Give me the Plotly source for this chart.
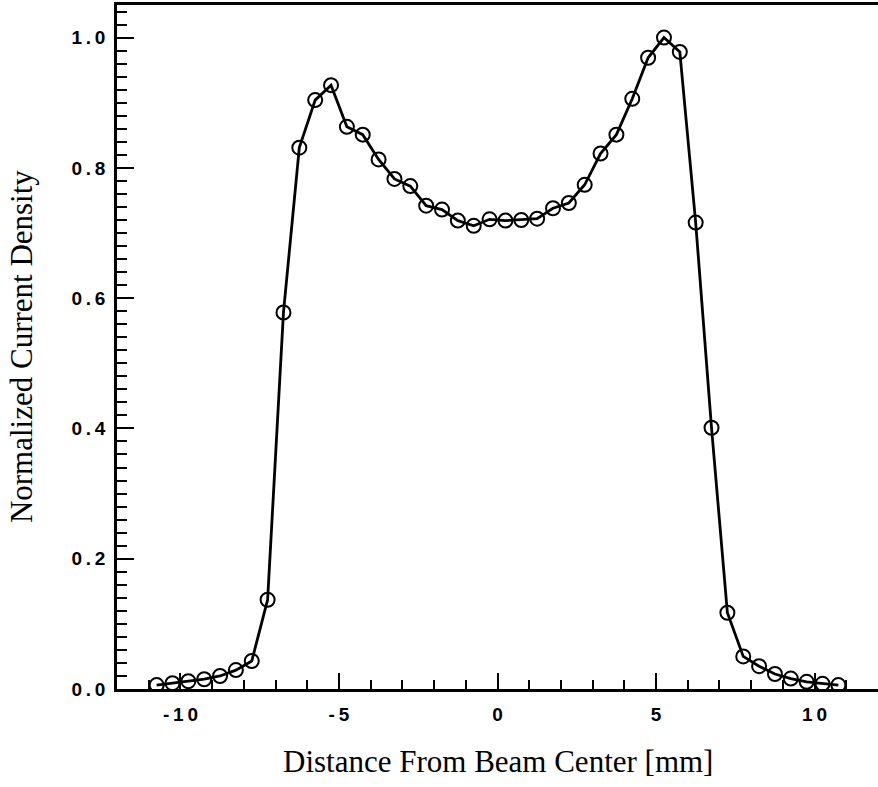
import plotly.graph_objects as go

x_mm = [-10.75, -10.25, -9.75, -9.25, -8.75, -8.25, -7.75, -7.25, -6.75, -6.25,
        -5.75, -5.25, -4.75, -4.25, -3.75, -3.25, -2.75, -2.25, -1.75, -1.25,
        -0.75, -0.25, 0.25, 0.75, 1.25, 1.75, 2.25, 2.75, 3.25, 3.75,
        4.25, 4.75, 5.25, 5.75, 6.25, 6.75, 7.25, 7.75, 8.25, 8.75,
        9.25, 9.75, 10.25, 10.75]
density = [0.006, 0.009, 0.012, 0.015, 0.020, 0.029, 0.043, 0.137, 0.578, 0.831,
           0.904, 0.927, 0.863, 0.851, 0.813, 0.783, 0.772, 0.742, 0.736, 0.719,
           0.711, 0.721, 0.719, 0.720, 0.722, 0.738, 0.746, 0.774, 0.822, 0.851,
           0.906, 0.969, 1.000, 0.978, 0.716, 0.401, 0.117, 0.050, 0.035, 0.023,
           0.016, 0.011, 0.008, 0.006]

T = "\u2009"  # thin space, mimics the spaced-out lettering of the original labels
x_tickvals = [-10, -5, 0, 5, 10]
x_ticktext = ["-" + T + "1" + T + "0", "-" + T + "5", "0", "5", "1" + T + "0"]
y_tickvals = [0.0, 0.2, 0.4, 0.6, 0.8, 1.0]
y_ticktext = ["0" + T + "." + T + "0", "0" + T + "." + T + "2", "0" + T + "." + T + "4",
              "0" + T + "." + T + "6", "0" + T + "." + T + "8", "1" + T + "." + T + "0"]

x_title = "Distance From Beam Center [mm]"
y_title = "Normalized Current Density"

fig = go.Figure()
fig.add_trace(go.Scatter(
    x=x_mm, y=density, mode="lines+markers",
    line=dict(color="black", width=2.8),
    marker=dict(symbol="circle-open", size=14, color="black", line=dict(width=2.0, color="black")),
    showlegend=False,
))

tick_font = dict(family="Liberation Sans", size=19, color="black", weight="bold")
title_font = dict(family="Liberation Serif", size=31, color="black")

fig.update_layout(
    width=878, height=787,
    margin=dict(l=117, r=0, t=5, b=98, autoexpand=False),
    plot_bgcolor="white", paper_bgcolor="white",
    xaxis=dict(
        range=[-12, 12], tickvals=x_tickvals, ticktext=x_ticktext,
        ticks="inside", ticklen=16, tickwidth=2, tickcolor="black",
        minor=dict(dtick=1, tick0=0, ticks="inside", ticklen=9, tickwidth=2, tickcolor="black"),
        showline=True, linecolor="black", linewidth=2.5, mirror=True,
        showgrid=False, zeroline=False, tickfont=tick_font, ticklabelstandoff=6,
        automargin=False,
    ),
    yaxis=dict(
        range=[0, 1.05], tickvals=y_tickvals, ticktext=y_ticktext,
        ticks="inside", ticklen=17, tickwidth=2, tickcolor="black",
        minor=dict(dtick=0.02, tick0=0, ticks="inside", ticklen=10, tickwidth=2, tickcolor="black"),
        showline=True, linecolor="black", linewidth=2.5, mirror=False,
        showgrid=False, zeroline=False, tickfont=tick_font, ticklabelstandoff=5,
        automargin=False,
    ),
    annotations=[
        dict(text=x_title, xref="paper", yref="paper", x=0.5007, y=-0.1067,
             xanchor="center", yanchor="middle", showarrow=False, font=title_font),
        dict(text=y_title, xref="paper", yref="paper", x=-0.126, y=0.5,
             xanchor="center", yanchor="middle", showarrow=False, font=title_font,
             textangle=-90),
    ],
)

fig.write_html(
    "out.html",
    config={"displayModeBar": False},
    post_script="document.body.style.margin='0';document.body.style.overflow='hidden';",
)
